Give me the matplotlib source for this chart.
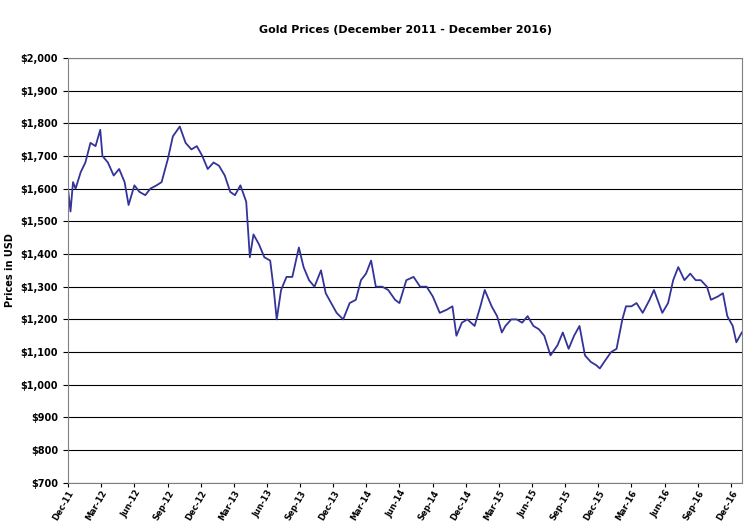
import matplotlib.pyplot as plt
import matplotlib.dates as mdates
import pandas as pd

dates = [
    "2011-12-01", "2011-12-08", "2011-12-15", "2011-12-22", "2012-01-05", "2012-01-18", "2012-02-01",
    "2012-02-15", "2012-02-28", "2012-03-05", "2012-03-20", "2012-04-05", "2012-04-20", "2012-05-05",
    "2012-05-16", "2012-06-01", "2012-06-15", "2012-07-01", "2012-07-15", "2012-08-01", "2012-08-15",
    "2012-09-01", "2012-09-15", "2012-10-04", "2012-10-20", "2012-11-05", "2012-11-20", "2012-12-05",
    "2012-12-20", "2013-01-05", "2013-01-20", "2013-02-05", "2013-02-20", "2013-03-05", "2013-03-20",
    "2013-04-05", "2013-04-15", "2013-04-25", "2013-05-10", "2013-05-25", "2013-06-10", "2013-06-20",
    "2013-06-28", "2013-07-10", "2013-07-25", "2013-08-10", "2013-08-28", "2013-09-10", "2013-09-25",
    "2013-10-10", "2013-10-28", "2013-11-10", "2013-11-25", "2013-12-10", "2013-12-28", "2014-01-15",
    "2014-02-01", "2014-02-15", "2014-03-01", "2014-03-15", "2014-03-28", "2014-04-15", "2014-05-01",
    "2014-05-20", "2014-06-01", "2014-06-20", "2014-07-10", "2014-07-28", "2014-08-15", "2014-09-01",
    "2014-09-20", "2014-10-10", "2014-10-25", "2014-11-05", "2014-11-20", "2014-12-05", "2014-12-25",
    "2015-01-10", "2015-01-22", "2015-02-10", "2015-02-25", "2015-03-10", "2015-03-20", "2015-04-05",
    "2015-04-20", "2015-05-05", "2015-05-20", "2015-06-05", "2015-06-20", "2015-07-05", "2015-07-22",
    "2015-08-10", "2015-08-25", "2015-09-10", "2015-09-25", "2015-10-10", "2015-10-25", "2015-11-10",
    "2015-11-25", "2015-12-05", "2015-12-17", "2016-01-05", "2016-01-20", "2016-02-05", "2016-02-15",
    "2016-03-01", "2016-03-15", "2016-04-01", "2016-04-20", "2016-05-02", "2016-05-25", "2016-06-10",
    "2016-06-24", "2016-07-08", "2016-07-25", "2016-08-10", "2016-08-25", "2016-09-08", "2016-09-25",
    "2016-10-06", "2016-10-25", "2016-11-08", "2016-11-20", "2016-12-05", "2016-12-15", "2016-12-30",
]
prices = [
    1600, 1530, 1620, 1600, 1650, 1680, 1740,
    1730, 1780, 1700, 1680, 1640, 1660, 1620,
    1550, 1610, 1590, 1580, 1600, 1610, 1620,
    1690, 1760, 1790, 1740, 1720, 1730, 1700,
    1660, 1680, 1670, 1640, 1590, 1580, 1610,
    1560, 1390, 1460, 1430, 1390, 1380, 1290,
    1200, 1290, 1330, 1330, 1420, 1360, 1320,
    1300, 1350, 1280, 1250, 1220, 1200, 1250,
    1260, 1320, 1340, 1380, 1300, 1300, 1290,
    1260, 1250, 1320, 1330, 1300, 1300, 1270,
    1220, 1230, 1240, 1150, 1190, 1200, 1180,
    1240, 1290, 1240, 1210, 1160, 1180, 1200,
    1200, 1190, 1210, 1180, 1170, 1150, 1090,
    1120, 1160, 1110, 1150, 1180, 1090, 1070,
    1060, 1050, 1070, 1100, 1110, 1200, 1240,
    1240, 1250, 1220, 1260, 1290, 1220, 1250,
    1320, 1360, 1320, 1340, 1320, 1320, 1300,
    1260, 1270, 1280, 1210, 1180, 1130, 1160,
]
price_ticks = list(range(700, 2001, 100))

x = pd.to_datetime(dates)

fig, ax = plt.subplots(figsize=(7.55, 5.26), dpi=100)
fig.subplots_adjust(left=0.09, right=0.983, top=0.89, bottom=0.082)

ax.plot(x, prices, color="#333399", linewidth=1.3)
ax.set_ylim(700, 2000)
ax.set_yticks(price_ticks)
ax.set_yticklabels([f"${v:,}" for v in price_ticks], fontsize=7, fontweight="bold")
ax.set_xlim(pd.Timestamp("2011-12-01"), pd.Timestamp("2016-12-31"))
qticks = pd.date_range("2011-12-01", "2016-12-01", freq="3MS")
ax.set_xticks(qticks)
ax.set_xticklabels([d.strftime("%b-%y") for d in qticks], rotation=60, ha="right",
                   fontsize=6, fontweight="bold", rotation_mode="anchor")
ax.tick_params(axis="x", pad=1, length=3)
ax.grid(axis="y", color="black", linewidth=0.8)
ax.set_axisbelow(True)
ax.set_ylabel("Prices in USD", fontsize=7, fontweight="bold")
ax.set_title("Gold Prices (December 2011 - December 2016)", fontsize=8, fontweight="bold", pad=18)
for s in ax.spines.values():
    s.set_color("#808080")

fig.savefig("out.png", dpi=100)
